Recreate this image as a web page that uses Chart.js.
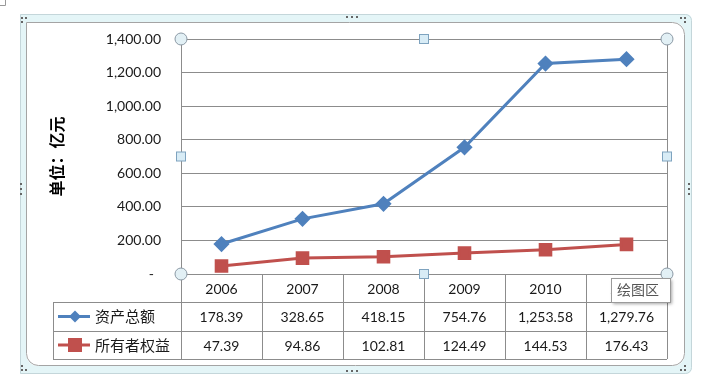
<!DOCTYPE html>
<html>
<head>
<meta charset="utf-8">
<script src="https://cdn.jsdelivr.net/npm/chart.js@4"></script>
<style>
  html, body { margin: 0; padding: 0; background: #fff; }
  #wrap { width: 718px; height: 386px; position: relative; }
</style>
</head>
<body>
<div id="wrap"><canvas id="assetChart"></canvas></div>
<script>
var years = ['2006', '2007', '2008', '2009', '2010', '2011'];
var totalAssets = [178.39, 328.65, 418.15, 754.76, 1253.58, 1279.76];
var ownersEquity = [47.39, 94.86, 102.81, 124.49, 144.53, 176.43];
var seriesNames = ['资产总额', '所有者权益'];
var yMin = 0, yMax = 1400, yStep = 200;

var BLUE = '#4F81BD';
var RED = '#C0504D';
var GRID = '#8c8c8c';
var FONT = 'Lato, "Noto Sans CJK SC", sans-serif';
var CJK = '"Noto Sans CJK SC", sans-serif';

function fmt(v) {
    if (v === 0) return '-';
    return v.toLocaleString('en-US', { minimumFractionDigits: 2, maximumFractionDigits: 2 });
}

// data table + frame + selection handles, the way Excel shows a selected chart
var excelBits = {
    id: 'excelBits',
    beforeDraw: function (chart) {
        var c = chart.ctx;
        c.save();
        // outer selection frame: light band between two thin lines
        c.fillStyle = '#e4f5f7';
        c.beginPath();
        c.roundRect(20, 14, 672, 360, [0, 6, 6, 0]);
        c.roundRect(26, 22, 659, 344, [0, 12, 12, 12]);
        c.fill('evenodd');
        c.strokeStyle = '#c4d6da';
        c.lineWidth = 1;
        c.beginPath();
        c.roundRect(20.5, 14.5, 671, 359, [0, 6, 6, 0]);
        c.stroke();
        c.strokeStyle = '#a4a4a4';
        c.beginPath();
        c.roundRect(26.5, 22.5, 658, 343, [0, 12, 12, 12]);
        c.stroke();
        // grip dots
        c.fillStyle = '#666';
        [[346, 16], [351, 16], [356, 16], [346, 370], [351, 370], [356, 370],
         [20, 183], [20, 188], [20, 193], [688, 183], [688, 188], [688, 193],
         [21, 17], [25, 17], [21, 21], [680, 17], [684, 17], [684, 21],
         [21, 365], [21, 369], [25, 369], [684, 365], [680, 369], [684, 369]].forEach(function (p) {
            c.fillRect(p[0], p[1], 2, 2);
        });
        // tiny corner mark top-left
        c.strokeStyle = '#999';
        c.beginPath();
        c.moveTo(5.5, 0);
        c.lineTo(5.5, 5.5);
        c.lineTo(0, 5.5);
        c.stroke();
        c.restore();
    },
    afterDraw: function (chart) {
        var c = chart.ctx;
        var a = chart.chartArea;
        var x = chart.scales.x;
        var step = x.getPixelForValue(1) - x.getPixelForValue(0);
        var tableLeft = 53;
        var r1 = a.bottom + 28, r2 = a.bottom + 57, r3 = a.bottom + 85;
        c.save();
        c.strokeStyle = GRID;
        c.lineWidth = 1;
        // plot border right
        c.beginPath();
        c.moveTo(a.right + 0.5, a.top);
        c.lineTo(a.right + 0.5, r3);
        c.stroke();
        // table horizontal lines
        [r1, r2, r3].forEach(function (y) {
            c.beginPath();
            c.moveTo(tableLeft, y + 0.5);
            c.lineTo(a.right, y + 0.5);
            c.stroke();
        });
        // table vertical lines
        c.beginPath();
        c.moveTo(tableLeft + 0.5, r1);
        c.lineTo(tableLeft + 0.5, r3);
        for (var i = 0; i < years.length; i++) {
            var bx = Math.round(x.getPixelForValue(i) - step / 2) + 0.5;
            c.moveTo(bx, a.bottom);
            c.lineTo(bx, r3);
        }
        c.stroke();

        // cell texts
        c.fillStyle = '#1a1a1a';
        c.font = '14px ' + FONT;
        c.textAlign = 'center';
        c.textBaseline = 'middle';
        years.forEach(function (yr, i) {
            var cx = x.getPixelForValue(i);
            c.fillText(yr, cx, (a.bottom + r1) / 2 + 1);
            c.fillText(fmt(totalAssets[i]), cx, (r1 + r2) / 2 + 1);
            c.fillText(fmt(ownersEquity[i]), cx, (r2 + r3) / 2 + 1);
        });

        // legend keys in table
        var keys = [[BLUE, 'rectRot', (r1 + r2) / 2], [RED, 'rect', (r2 + r3) / 2]];
        keys.forEach(function (k, j) {
            c.strokeStyle = k[0];
            c.fillStyle = k[0];
            c.lineWidth = 3;
            c.beginPath();
            c.moveTo(58, k[2]);
            c.lineTo(90, k[2]);
            c.stroke();
            if (k[1] === 'rect') {
                c.fillRect(68, k[2] - 7, 14, 14);
            } else {
                c.beginPath();
                c.moveTo(75, k[2] - 6);
                c.lineTo(81, k[2]);
                c.lineTo(75, k[2] + 6);
                c.lineTo(69, k[2]);
                c.closePath();
                c.fill();
            }
            c.fillStyle = '#1a1a1a';
            c.font = '15px ' + CJK;
            c.textAlign = 'left';
            c.fillText(seriesNames[j], 95, k[2]);
        });

        // selection handles on plot area
        var mx = (a.left + a.right) / 2, my = (a.top + a.bottom) / 2;
        c.lineWidth = 1;
        [[a.left, a.top], [a.right, a.top], [a.left, a.bottom], [a.right, a.bottom]].forEach(function (p) {
            c.beginPath();
            c.arc(p[0], p[1], 6, 0, Math.PI * 2);
            c.fillStyle = '#e2f0f5';
            c.fill();
            c.strokeStyle = '#8a98a4';
            c.stroke();
        });
        [[mx, a.top], [mx, a.bottom], [a.left, my], [a.right, my]].forEach(function (p) {
            c.fillStyle = '#d8ecf6';
            c.fillRect(p[0] - 4.5, p[1] - 4.5, 9, 9);
            c.strokeStyle = '#7ea3bf';
            c.strokeRect(p[0] - 4.5, p[1] - 4.5, 9, 9);
        });

        // "绘图区" hover tip
        c.shadowColor = 'rgba(0,0,0,0.35)';
        c.shadowOffsetX = 2;
        c.shadowOffsetY = 2;
        c.shadowBlur = 3;
        c.fillStyle = '#fff';
        c.fillRect(611, 278, 59, 24);
        c.shadowColor = 'transparent';
        c.strokeStyle = '#9a9a9a';
        c.strokeRect(611.5, 278.5, 59, 24);
        c.fillStyle = '#555';
        c.font = '14px ' + CJK;
        c.textAlign = 'left';
        c.fillText('绘图区', 617, 290);
        c.restore();
    }
};

var ctx = document.getElementById('assetChart').getContext('2d');
var assetChart = new Chart(ctx, {
    type: 'line',
    data: {
        labels: years,
        datasets: [{
            label: seriesNames[0],
            data: totalAssets,
            borderColor: BLUE,
            backgroundColor: BLUE,
            borderWidth: 3,
            pointStyle: 'rectRot',
            pointRadius: 6,
            pointHoverRadius: 6,
            tension: 0
        }, {
            label: seriesNames[1],
            data: ownersEquity,
            borderColor: RED,
            backgroundColor: RED,
            borderWidth: 3,
            pointStyle: 'rect',
            pointRadius: 7.5,
            pointHoverRadius: 7.5,
            tension: 0
        }]
    },
    options: {
        responsive: true,
        maintainAspectRatio: false,
        animation: false,
        events: [],
        layout: { padding: { top: 39, right: 51, bottom: 112, left: 0 } },
        scales: {
            x: {
                offset: true,
                ticks: { display: false },
                grid: { display: false },
                border: { color: GRID },
                afterFit: function (s) { s.height = 0; }
            },
            y: {
                min: yMin,
                max: yMax,
                ticks: {
                    stepSize: yStep,
                    color: '#1a1a1a',
                    padding: 20,
                    font: { family: FONT, size: 14 },
                    callback: function (v) { return v === 0 ? '-  ' : fmt(v); }
                },
                grid: { color: GRID, drawTicks: false },
                border: { color: GRID },
                title: {
                    display: true,
                    text: '单位：亿元',
                    color: '#000',
                    font: { family: CJK, size: 16, weight: 'bold' },
                    padding: { top: 47, bottom: 0 }
                },
                afterFit: function (s) { s.width = 181; }
            }
        },
        plugins: {
            legend: { display: false },
            tooltip: { enabled: false }
        }
    },
    plugins: [excelBits]
});
</script>
</body>
</html>
